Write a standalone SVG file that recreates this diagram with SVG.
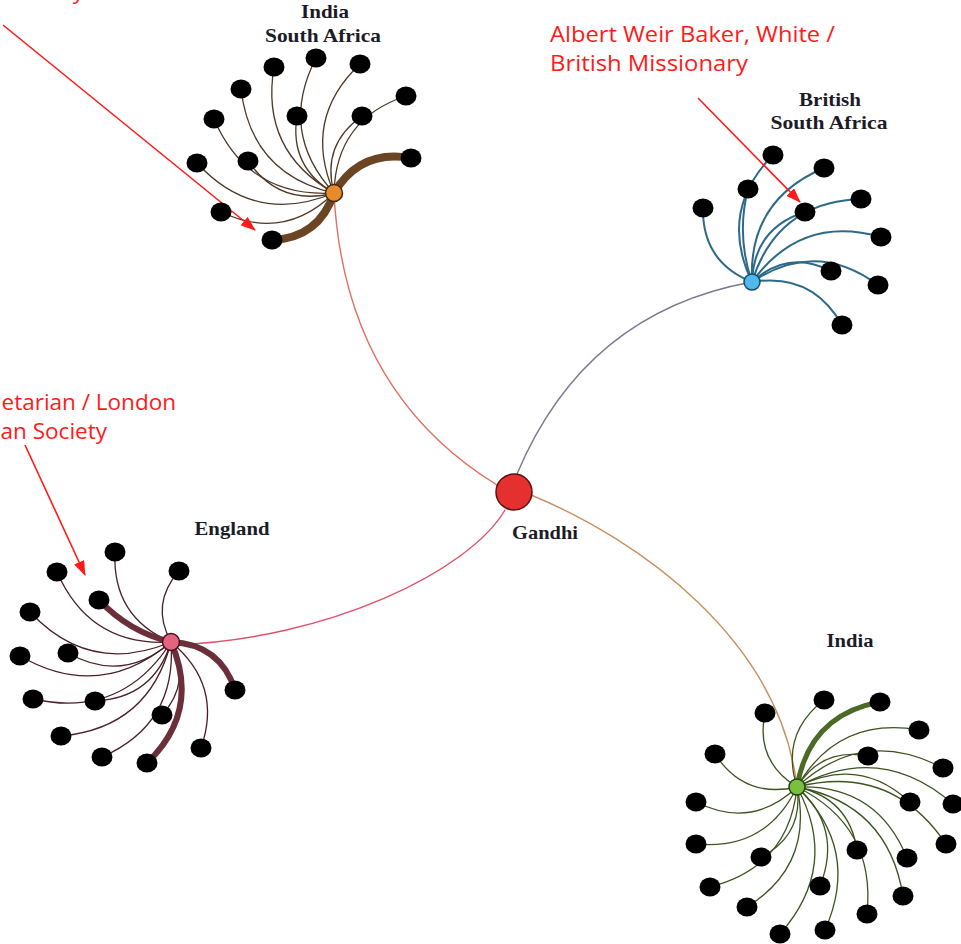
<svg xmlns="http://www.w3.org/2000/svg" width="961" height="944" viewBox="0 0 961 944">
<defs>
<style>
.lbl{font-family:"Liberation Serif",serif;font-weight:bold;font-size:19px;fill:#1c1c28;text-anchor:middle}
.ann{font-family:"Open Sans","Noto Sans",sans-serif;font-size:22.5px;fill:#ff1a1a}
.leaf{fill:#000}
.e{fill:none;stroke-linecap:round}
.ea{stroke:#4e3826;stroke-width:1.3}
.eat{stroke:#6b4423;stroke-width:8}
.eb{stroke:#2d6a88;stroke-width:2}
.ec{stroke:#4a2028;stroke-width:1.3}
.ect{stroke:#6b2f3a;stroke-width:6}
.ed{stroke:#3d5420;stroke-width:1.3}
.edt{stroke:#4a6a25;stroke-width:5}
.arr{stroke:#ff1a1a;stroke-width:1.6;fill:none}
</style>
<marker id="ah" markerUnits="userSpaceOnUse" markerWidth="15" markerHeight="11" refX="14" refY="5.5" orient="auto">
<path d="M0,0 L15,5.5 L0,11 z" fill="#ff1a1a"/>
</marker>
</defs>
<rect width="961" height="944" fill="#fff"/>

<g id="connectors">
<path class="e" d="M334,193 Q344,391 497,485" stroke="#e07060" stroke-width="1.4"/>
<path class="e" d="M517,474 Q585,312 752,282" stroke="#7a7a90" stroke-width="1.4"/>
<path class="e" d="M505,510 C470,570 330,640 171,645" stroke="#e0506a" stroke-width="1.4"/>
<path class="e" d="M531,495 C640,540 780,640 797,787" stroke="#c89060" stroke-width="1.4"/>

<g id="edges-top">
<path class="e ea" d="M334,193 Q260,151 274,67"/>
<path class="e ea" d="M334,193 Q278,132 316,58"/>
<path class="e ea" d="M334,193 Q302,119 360,64"/>
<path class="e ea" d="M334,193 Q336,119 406,96"/>
<path class="e ea" d="M334,193 Q251,174 241,89"/>
<path class="e ea" d="M334,193 Q289,167 297,116"/>
<path class="e ea" d="M334,193 Q321,145 362,116"/>
<path class="e ea" d="M334,193 Q248,198 214,119"/>
<path class="e ea" d="M334,193 Q255,226 197,163"/>
<path class="e ea" d="M334,193 Q280,207 248,161"/>
<path class="e ea" d="M334,193 Q284,242 221,212"/>
<path class="e eat" d="M334,193 Q360,149 411,158"/>
<path class="e eat" d="M334,193 Q319,238 272,240"/>
</g>
<g id="edges-right">
<path class="e eb" d="M752,282 Q718,211 773,155"/>
<path class="e eb" d="M752,282 Q748,200 824,168"/>
<path class="e eb" d="M752,282 Q736,236 748,189" stroke-width="6"/>
<path class="e eb" d="M752,282 Q777,202 861,199"/>
<path class="e eb" d="M752,282 Q754,228 805,212" stroke-width="12"/>
<path class="e eb" d="M752,282 Q702,262 703,208"/>
<path class="e eb" d="M752,282 Q801,214 881,237"/>
<path class="e eb" d="M752,282 Q788,249 831,271"/>
<path class="e eb" d="M752,282 Q816,239 878,285"/>
<path class="e eb" d="M752,282 Q812,272 842,325"/>
</g>
<g id="edges-left">
<path class="e ec" d="M171,642 Q112,617 115,552"/>
<path class="e ec" d="M171,642 Q90,647 57,572"/>
<path class="e ec" d="M171,642 Q150,604 179,571"/>
<path class="e ect" d="M171,642 Q129,632 99,600" stroke-width="9"/>
<path class="e ec" d="M171,642 Q90,676 30,612"/>
<path class="e ec" d="M171,642 Q100,702 20,656"/>
<path class="e ec" d="M171,642 Q123,684 68,653"/>
<path class="e ect" d="M171,642 Q220,644 235,690" stroke-width="4"/>
<path class="e ec" d="M171,642 Q122,719 33,699"/>
<path class="e ec" d="M171,642 Q154,698 95,701"/>
<path class="e ec" d="M171,642 Q192,682 162,715"/>
<path class="e ec" d="M171,642 Q149,728 61,736"/>
<path class="e ec" d="M171,642 Q223,685 201,748"/>
<path class="e ec" d="M171,642 Q177,724 102,757"/>
<path class="e ect" d="M171,642 Q201,711 147,763"/>
</g>
<g id="edges-bottom">
<path class="e ed" d="M797,787 Q780,734 824,700"/>
<path class="e edt" d="M797,787 Q809,715 880,702"/>
<path class="e ed" d="M797,787 Q755,761 765,713"/>
<path class="e ed" d="M797,787 Q838,716 919,730"/>
<path class="e ed" d="M797,787 Q744,799 715,754"/>
<path class="e ed" d="M797,787 Q822,747 868,756"/>
<path class="e ed" d="M797,787 Q863,726 943,768"/>
<path class="e ed" d="M797,787 Q752,830 696,802"/>
<path class="e ed" d="M797,787 Q859,755 910,802"/>
<path class="e ed" d="M797,787 Q881,741 953,804"/>
<path class="e ed" d="M797,787 Q766,851 696,844"/>
<path class="e ed" d="M797,787 Q891,763 946,844"/>
<path class="e ed" d="M797,787 Q849,798 857,850"/>
<path class="e ed" d="M797,787 Q804,835 761,857" stroke-width="2.2"/>
<path class="e ed" d="M797,787 Q877,784 907,858"/>
<path class="e ed" d="M797,787 Q789,867 710,887"/>
<path class="e ed" d="M797,787 Q843,828 820,886"/>
<path class="e ed" d="M797,787 Q888,804 903,896"/>
<path class="e ed" d="M797,787 Q814,865 747,907"/>
<path class="e ed" d="M797,787 Q876,826 867,914"/>
<path class="e ed" d="M797,787 Q840,866 780,934"/>
<path class="e ed" d="M797,787 Q861,849 825,930"/>
</g>
<g id="annotation-arrows">
<path class="arr" d="M3,25 L255,230" marker-end="url(#ah)"/>
<path class="arr" d="M698,98 L800,202" marker-end="url(#ah)"/>
<path class="arr" d="M25,445 L85,575" marker-end="url(#ah)"/>
</g>
</g>

<g id="leaves-top" class="leaf">
<ellipse cx="274" cy="67" rx="10.5" ry="9.5"/>
<ellipse cx="316" cy="58" rx="10.5" ry="9.5"/>
<ellipse cx="360" cy="64" rx="10.5" ry="9.5"/>
<ellipse cx="406" cy="96" rx="10.5" ry="9.5"/>
<ellipse cx="241" cy="89" rx="10.5" ry="9.5"/>
<ellipse cx="297" cy="116" rx="10.5" ry="9.5"/>
<ellipse cx="362" cy="116" rx="10.5" ry="9.5"/>
<ellipse cx="214" cy="119" rx="10.5" ry="9.5"/>
<ellipse cx="411" cy="158" rx="10.5" ry="9.5"/>
<ellipse cx="197" cy="163" rx="10.5" ry="9.5"/>
<ellipse cx="248" cy="161" rx="10.5" ry="9.5"/>
<ellipse cx="221" cy="212" rx="10.5" ry="9.5"/>
<ellipse cx="272" cy="240" rx="10.5" ry="9.5"/>
</g>
<g id="leaves-right" class="leaf">
<ellipse cx="773" cy="155" rx="10.5" ry="9.5"/>
<ellipse cx="824" cy="168" rx="10.5" ry="9.5"/>
<ellipse cx="748" cy="189" rx="10.5" ry="9.5"/>
<ellipse cx="861" cy="199" rx="10.5" ry="9.5"/>
<ellipse cx="805" cy="212" rx="10.5" ry="9.5"/>
<ellipse cx="703" cy="208" rx="10.5" ry="9.5"/>
<ellipse cx="881" cy="237" rx="10.5" ry="9.5"/>
<ellipse cx="831" cy="271" rx="10.5" ry="9.5"/>
<ellipse cx="878" cy="285" rx="10.5" ry="9.5"/>
<ellipse cx="842" cy="325" rx="10.5" ry="9.5"/>
</g>
<g id="leaves-left" class="leaf">
<ellipse cx="115" cy="552" rx="10.5" ry="9.5"/>
<ellipse cx="57" cy="572" rx="10.5" ry="9.5"/>
<ellipse cx="179" cy="571" rx="10.5" ry="9.5"/>
<ellipse cx="99" cy="600" rx="10.5" ry="9.5"/>
<ellipse cx="30" cy="612" rx="10.5" ry="9.5"/>
<ellipse cx="20" cy="656" rx="10.5" ry="9.5"/>
<ellipse cx="68" cy="653" rx="10.5" ry="9.5"/>
<ellipse cx="235" cy="690" rx="10.5" ry="9.5"/>
<ellipse cx="33" cy="699" rx="10.5" ry="9.5"/>
<ellipse cx="95" cy="701" rx="10.5" ry="9.5"/>
<ellipse cx="162" cy="715" rx="10.5" ry="9.5"/>
<ellipse cx="61" cy="736" rx="10.5" ry="9.5"/>
<ellipse cx="201" cy="748" rx="10.5" ry="9.5"/>
<ellipse cx="102" cy="757" rx="10.5" ry="9.5"/>
<ellipse cx="147" cy="763" rx="10.5" ry="9.5"/>
</g>
<g id="leaves-bottom" class="leaf">
<ellipse cx="824" cy="700" rx="10.5" ry="9.5"/>
<ellipse cx="880" cy="702" rx="10.5" ry="9.5"/>
<ellipse cx="765" cy="713" rx="10.5" ry="9.5"/>
<ellipse cx="919" cy="730" rx="10.5" ry="9.5"/>
<ellipse cx="715" cy="754" rx="10.5" ry="9.5"/>
<ellipse cx="868" cy="756" rx="10.5" ry="9.5"/>
<ellipse cx="943" cy="768" rx="10.5" ry="9.5"/>
<ellipse cx="696" cy="802" rx="10.5" ry="9.5"/>
<ellipse cx="910" cy="802" rx="10.5" ry="9.5"/>
<ellipse cx="953" cy="804" rx="10.5" ry="9.5"/>
<ellipse cx="696" cy="844" rx="10.5" ry="9.5"/>
<ellipse cx="946" cy="844" rx="10.5" ry="9.5"/>
<ellipse cx="857" cy="850" rx="10.5" ry="9.5"/>
<ellipse cx="761" cy="857" rx="10.5" ry="9.5"/>
<ellipse cx="907" cy="858" rx="10.5" ry="9.5"/>
<ellipse cx="710" cy="887" rx="10.5" ry="9.5"/>
<ellipse cx="820" cy="886" rx="10.5" ry="9.5"/>
<ellipse cx="903" cy="896" rx="10.5" ry="9.5"/>
<ellipse cx="747" cy="907" rx="10.5" ry="9.5"/>
<ellipse cx="867" cy="914" rx="10.5" ry="9.5"/>
<ellipse cx="780" cy="934" rx="10.5" ry="9.5"/>
<ellipse cx="825" cy="930" rx="10.5" ry="9.5"/>
</g>

<g id="hub-india-sa">
<circle cx="334" cy="193" r="8.5" fill="#e8892a" stroke="#3a2a10" stroke-width="1.5"/>
<text class="lbl" x="325" y="18" textLength="48" lengthAdjust="spacingAndGlyphs">India</text>
<text class="lbl" x="323" y="42" textLength="116" lengthAdjust="spacingAndGlyphs">South Africa</text>
</g>
<g id="hub-british-sa">
<circle cx="752" cy="282" r="8" fill="#4fb8ec" stroke="#1a4a60" stroke-width="1.5"/>
<text class="lbl" x="830" y="106" textLength="62" lengthAdjust="spacingAndGlyphs">British</text>
<text class="lbl" x="829" y="129" textLength="117" lengthAdjust="spacingAndGlyphs">South Africa</text>
</g>
<g id="hub-england">
<circle cx="171" cy="642" r="8.5" fill="#e2647e" stroke="#4a1020" stroke-width="1.5"/>
<text class="lbl" x="232" y="535" textLength="75" lengthAdjust="spacingAndGlyphs">England</text>
</g>
<g id="hub-india">
<circle cx="797" cy="787" r="8" fill="#78c040" stroke="#2a4010" stroke-width="1.5"/>
<text class="lbl" x="850" y="647" textLength="47" lengthAdjust="spacingAndGlyphs">India</text>
</g>
<g id="gandhi">
<circle cx="514" cy="492" r="18" fill="#e63030" stroke="#5a1010" stroke-width="1.5"/>
<text class="lbl" x="545" y="539" textLength="66" lengthAdjust="spacingAndGlyphs">Gandhi</text>
</g>

<g id="annotations">
<text class="ann" x="84" y="-1" text-anchor="end">y</text>
<text class="ann" x="550" y="42" textLength="285" lengthAdjust="spacingAndGlyphs">Albert Weir Baker, White /</text>
<text class="ann" x="550" y="71" textLength="198" lengthAdjust="spacingAndGlyphs">British Missionary</text>
<text class="ann" x="176" y="410" text-anchor="end">etarian / London</text>
<text class="ann" x="107" y="439" text-anchor="end">an Society</text>
</g>
</svg>
